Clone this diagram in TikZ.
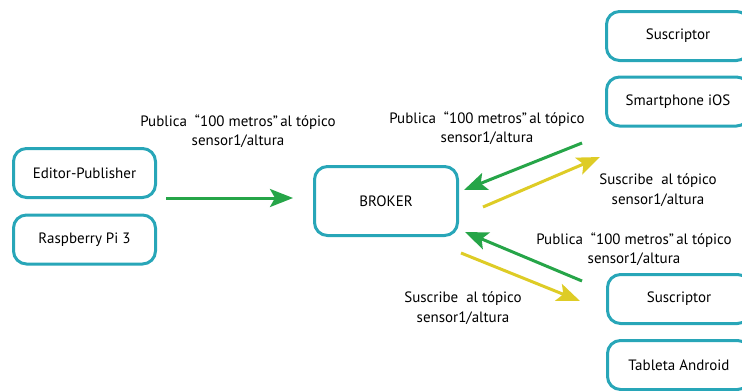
\documentclass[tikz,border=0pt]{standalone}
\usepackage{fontspec}
\setmainfont{PT Sans}
\usetikzlibrary{shapes,arrows.meta}
\usetikzlibrary{positioning}
\definecolor{boxteal}{RGB}{40,166,184}
\definecolor{pubgreen}{RGB}{38,165,72}
\definecolor{subyellow}{RGB}{222,204,38}
\tikzstyle{block} = [rectangle, draw=boxteal, line width=3pt, rounded corners=13pt,
    text centered, minimum width=142pt, minimum height=49pt, font=\fontsize{15}{17}\selectfont]
\tikzstyle{msg} = [align=center, font=\fontsize{15}{19.5}\selectfont]
\tikzstyle{pub} = [-{Stealth[length=23pt,width=18pt,inset=5pt]}, pubgreen, line width=3pt]
\tikzstyle{sub} = [-{Stealth[length=23pt,width=18pt,inset=5pt]}, subyellow, line width=3pt]

\begin{document}
\begin{tikzpicture}[x=1pt, y=1pt, node distance=66.5pt]
  \useasboundingbox (0,0) rectangle (742,-391);
  % Place nodes
  \node [block] (editor) at (84.5,-173) {Editor-Publisher};
  \node [block, below of=editor] (raspberry) {Raspberry Pi 3};
  \node [block, minimum width=143pt, minimum height=69pt] (broker) at (386,-201)
  {BROKER};
  \node [block, minimum width=143pt] (sus1) at (678,-36) {Suscriptor};
  \node [block, minimum width=143pt, below of=sus1, node distance=65.5pt] (ios)
  {Smartphone iOS};
  \node [block, minimum width=143pt] (sus2) at (679,-299) {Suscriptor};
  \node [block, minimum width=143pt, below of=sus2, node distance=66pt] (tablet)
  {Tableta Android};
  % Labels
  \node [msg] (lblpub1) at (238,-131) {Publica~ “100 metros”\hspace{0.15em}al tópico\\sensor1/altura};
  \node [msg] (lblpub2) at (487,-128) {Publica~ “100 metros”\hspace{0.15em}al tópico\\sensor1/altura};
  \node [msg] (lblsub2) at (658,-190) {Suscribe~ al tópico\\sensor1/altura};
  \node [msg] (lblpub3) at (634,-249) {Publica~ “100 metros”\hspace{0.15em}al tópico\\sensor1/altura};
  \node [msg] (lblsub3) at (463,-308) {Suscribe~ al tópico\\sensor1/altura};
  % Arrow ends
  \coordinate (edout) at (166,-198);
  \coordinate (brin1) at (293,-198);
  \coordinate (iosout) at (582,-143);
  \coordinate (brin2) at (464,-190);
  \coordinate (brout2) at (483,-207);
  \coordinate (iosin) at (600,-157);
  \coordinate (susout) at (582,-281);
  \coordinate (brin3) at (465,-232);
  \coordinate (brout3) at (461,-253);
  \coordinate (susin) at (580,-301);
  % Draw edges
  \draw [pub] (edout) -- (brin1);
  \draw [pub] (iosout) -- (brin2);
  \draw [sub] (brout2) -- (iosin);
  \draw [pub] (susout) -- (brin3);
  \draw [sub] (brout3) -- (susin);
\end{tikzpicture}
\end{document}
